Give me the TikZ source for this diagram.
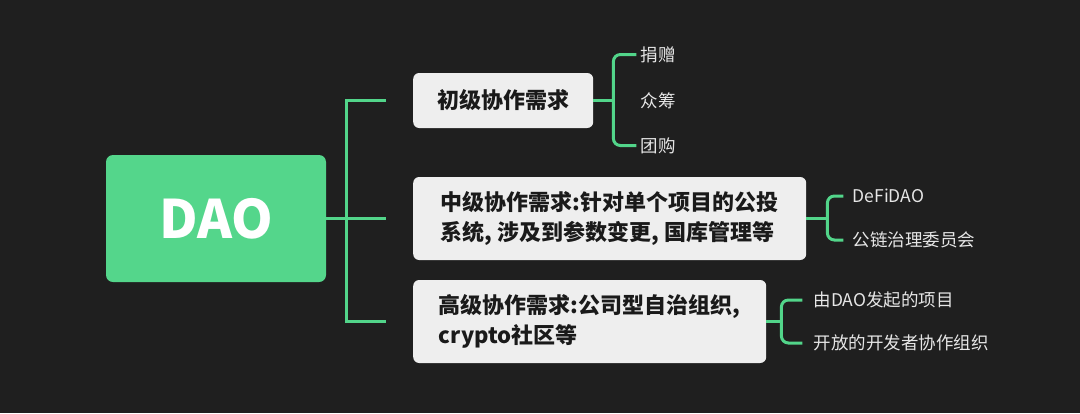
\documentclass[tikz,border=0pt]{standalone}
\usepackage{fontspec}
\setmainfont{Noto Sans CJK SC}
\usepackage{tikz}
\usetikzlibrary{positioning}
\definecolor{bgdark}{HTML}{1F1F1F}
\definecolor{daogreen}{HTML}{54D68B}
\definecolor{linkgreen}{HTML}{52D58A}
\definecolor{boxgray}{HTML}{EEEEEE}
\definecolor{leafgray}{HTML}{E6E6E6}
\definecolor{inkdark}{HTML}{1A1A1A}

\begin{document}
\begin{tikzpicture}[x=1pt, y=-1pt,
  root/.style={fill=daogreen, rounded corners=7pt, text=white, font=\fontsize{53}{60}\selectfont\bfseries, minimum width=220pt, minimum height=127pt},
  box/.style={fill=boxgray, rounded corners=6pt, text=inkdark, align=left, font=\fontsize{22}{30}\selectfont\bfseries, minimum height=83pt, anchor=west},
  leaf/.style={text=leafgray, font=\fontsize{17.5}{20}\selectfont, inner xsep=4pt, inner ysep=0pt},
  link/.style={draw=linkgreen, line width=3pt}]
  \fill[bgdark] (0,0) rectangle (1080,413);
  \useasboundingbox (0,0) rectangle (1080,413);
  \node[root] (dao) at (216,218.5) {DAO};
  \node[box, minimum width=180pt, minimum height=55pt] (basic) at (413,100.5) {初级协作需求};
  \node[box, minimum width=393pt] (middle) at (413,218.5) {中级协作需求:针对单个项目的公投\\系统, 涉及到参数变更, 国库管理等};
  \node[box, minimum width=353pt] (high) at (413,321.5) {高级协作需求:公司型自治组织,\\crypto社区等};
  \coordinate[right=20pt of dao] (trunk);
  \coordinate[left=27pt of basic] (t1);
  \coordinate[left=27pt of middle] (t2);
  \coordinate[left=27pt of high] (t3);
  \draw[link] (t1) -| (trunk) |- (t3);
  \draw[link] (dao) -- (t2);
  \node[leaf, right=43pt of basic] (crowd) {众筹};
  \node[leaf, above=46pt of crowd.west, anchor=west] (donate) {捐赠};
  \node[leaf, below=45pt of crowd.west, anchor=west] (group) {团购};
  \coordinate[right=20pt of basic] (b1);
  \draw[link, rounded corners=7pt] (donate) -| (b1) |- (group);
  \draw[link] (basic) -- (b1);
  \coordinate[right=42pt of middle] (m0);
  \node[leaf, above=22.5pt of m0, anchor=west] (defi) {DeFiDAO};
  \node[leaf, below=21.5pt of m0, anchor=west] (chain) {公链治理委员会};
  \coordinate[right=21pt of middle] (b2);
  \draw[link, rounded corners=7pt, shorten <=5pt, shorten >=5pt] (defi) -| (b2) |- (chain);
  \draw[link] (middle) -- (b2);
  \coordinate[right=43pt of high] (h0);
  \node[leaf, above=21.5pt of h0, anchor=west] (dapp) {由DAO发起的项目};
  \node[leaf, below=21.5pt of h0, anchor=west] (devs) {开放的开发者协作组织};
  \coordinate[right=15pt of high] (b3);
  \draw[link, rounded corners=7pt, shorten <=7pt, shorten >=7pt] (dapp) -| (b3) |- (devs);
  \draw[link] (high) -- (b3);
\end{tikzpicture}
\end{document}
